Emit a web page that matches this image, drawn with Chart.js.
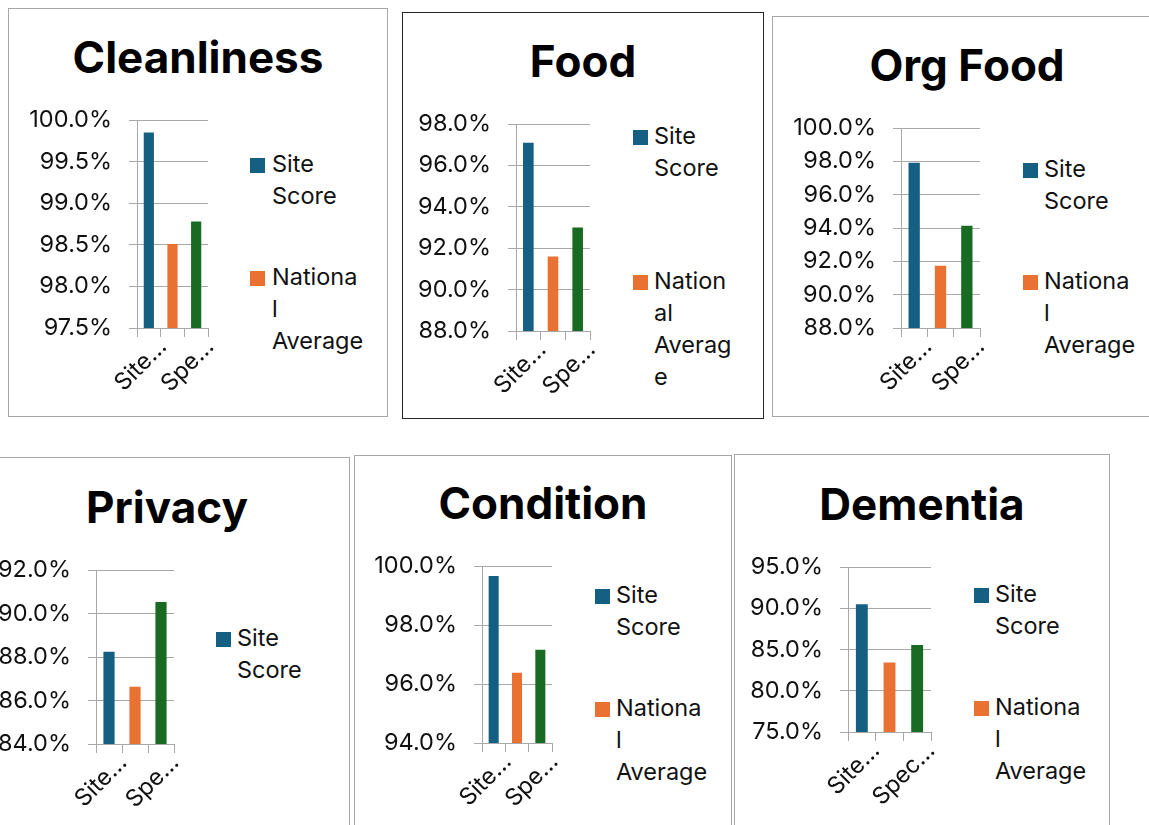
<!DOCTYPE html>
<html><head><meta charset="utf-8">
<script src="https://cdn.jsdelivr.net/npm/chart.js@4.4.1/dist/chart.umd.min.js"></script>
<style>
html,body{margin:0;padding:0;background:#fff;}
body{width:1149px;height:825px;overflow:hidden;position:relative;font-family:Inter,'DejaVu Sans',sans-serif;}
.box{position:absolute;box-sizing:border-box;background:#fff;}
.title{position:absolute;text-align:center;font-weight:bold;color:#000;white-space:nowrap;}
.leg{position:absolute;color:#111;white-space:nowrap;}
.sq{position:absolute;width:15px;height:15px;}
canvas{position:absolute;}
</style>
</head><body>
<script>
// ---------- data ----------
const titles = ["Cleanliness", "Food", "Org Food", "Privacy", "Condition", "Dementia"];
const categories = ["Site Score", "National Average", "Spe…"];
const cleanliness = [99.85, 98.51, 98.78];
const food = [97.1, 91.6, 93.0];
const orgFood = [97.92, 91.74, 94.14];
const privacy = [88.24, 86.63, 90.53];
const condition = [99.66, 96.38, 97.16];
const dementia = [90.5, 83.41, 85.55];
const yMin = [97.5, 88, 88, 84, 94, 75];
const yMax = [100, 98, 100, 92, 100, 95];
const yStep = [0.5, 2, 2, 2, 2, 5];
const xTickLabels = [
  ["Site…", "", "Spe…"], ["Site…", "", "Spe…"], ["Site…", "", "Spe…"],
  ["Site…", "", "Spe…"], ["Site…", "", "Spe…"], ["Site…", "", "Spec…"]
];
// legend text as wrapped in each panel
const legendLines = [
  [["Site", "Score"], ["Nationa", "l", "Average"]],
  [["Site", "Score"], ["Nation", "al", "Averag", "e"]],
  [["Site", "Score"], ["Nationa", "l", "Average"]],
  [["Site", "Score"]],
  [["Site", "Score"], ["Nationa", "l", "Average"]],
  [["Site", "Score"], ["Nationa", "l", "Average"]]
];
const seriesValues = [cleanliness, food, orgFood, privacy, condition, dementia];

// ---------- layout / style ----------
const colors = ["#156082", "#E97132", "#196B24"];
const gridColor = "#a8a8a8";
const FONT = "Inter";
const TICK_PX = 23.5, TITLE_PX = 44, LEG_PX = 23.5, LEG_LH = 32;
const layout = [
  {box:[8, 8, 388, 417], bc:"#a6a6a6", plot:[137, 120, 208, 328], sq:250, tx:272, ly:[172, 285]},
  {box:[402, 12, 764, 419], bc:"#262626", plot:[516, 124, 590, 331], sq:633, tx:654, ly:[144, 289]},
  {box:[772, 16, 1162, 417], bc:"#a6a6a6", plot:[901, 128, 980, 328], sq:1023, tx:1044, ly:[177, 289]},
  {box:[-16, 457, 350, 840], bc:"#a6a6a6", plot:[96, 570, 174, 744], sq:216, tx:237, ly:[646]},
  {box:[354, 455, 732, 840], bc:"#a6a6a6", plot:[482, 566, 552, 743], sq:595, tx:616, ly:[603, 716]},
  {box:[734, 454, 1110, 840], bc:"#a6a6a6", plot:[848, 567, 931, 732], sq:974, tx:995, ly:[602, 715]}
];

const mctx = document.createElement('canvas').getContext('2d');
function baseOff(px, weight, lh) {
  mctx.font = weight + " " + px + "px " + FONT;
  const m = mctx.measureText("Hg");
  const a = m.fontBoundingBoxAscent, d = m.fontBoundingBoxDescent;
  return (lh - (a + d)) / 2 + a;
}

function el(tag, cls, css) {
  const e = document.createElement(tag);
  if (cls) e.className = cls;
  Object.assign(e.style, css || {});
  document.body.appendChild(e);
  return e;
}

const YW = 130, PT = 40, PR = 60, XH = 90;

titles.forEach((title, i) => {
  const L = layout[i];
  const [bl, bt, br, bb] = L.box;
  el('div', 'box', {left: bl + 'px', top: bt + 'px', width: (br - bl) + 'px', height: (bb - bt) + 'px', border: '1px solid ' + L.bc});

  const [px, ptop, pright, pbottom] = L.plot;
  // title
  const tOff = baseOff(TITLE_PX, 'bold', TITLE_PX * 1.2);
  const t = el('div', 'title', {left: bl + 'px', width: (br - bl) + 'px', top: (ptop - 47 - tOff) + 'px',
    fontSize: TITLE_PX + 'px', lineHeight: (TITLE_PX * 1.2) + 'px'});
  t.textContent = title;

  // legend
  const lOff = baseOff(LEG_PX, 'normal', LEG_LH);
  legendLines[i].forEach((lines, k) => {
    const base = L.ly[k];
    el('div', 'sq', {left: L.sq + 'px', top: (base - 14) + 'px', background: colors[k]});
    const d = el('div', 'leg', {left: L.tx + 'px', top: (base - lOff) + 'px', fontSize: LEG_PX + 'px', lineHeight: LEG_LH + 'px'});
    d.innerHTML = lines.join('<br>');
  });

  // chart
  const cv = el('canvas', null, {left: (px - YW) + 'px', top: (ptop - PT) + 'px'});
  cv.width = YW + (pright - px) + PR;
  cv.height = PT + (pbottom - ptop) + XH;
  const tickFont = {family: FONT, size: TICK_PX};
  new Chart(cv, {
    type: 'bar',
    data: {
      labels: categories,
      datasets: [{label: title, data: seriesValues[i], backgroundColor: colors,
        categoryPercentage: 1, barPercentage: 0.43, borderWidth: 0}]
    },
    options: {
      responsive: false, animation: false, devicePixelRatio: 1,
      layout: {padding: {left: 0, top: PT, right: PR, bottom: 0}},
      plugins: {legend: {display: false}, tooltip: {enabled: false}, title: {display: false}},
      scales: {
        x: {
          offset: true,
          grid: {display: true, drawOnChartArea: false, drawTicks: true, tickLength: 9, color: gridColor, offset: true, lineWidth: 1},
          border: {display: true, color: gridColor, width: 1},
          ticks: {autoSkip: false, maxRotation: 45, minRotation: 45, labelOffset: 14, padding: -4,
            font: tickFont, color: '#111', callback: (v, idx) => xTickLabels[i][idx]},
          afterFit: s => { s.height = XH; }
        },
        y: {
          min: yMin[i], max: yMax[i],
          grid: {color: gridColor, lineWidth: 1, drawTicks: true, tickLength: 8},
          border: {display: true, color: gridColor, width: 1},
          ticks: {stepSize: yStep[i], padding: 17, font: tickFont, color: '#111',
            callback: v => Number(v).toFixed(1) + '%'},
          afterFit: s => { s.width = YW; }
        }
      }
    }
  });
});
</script>
</body></html>
